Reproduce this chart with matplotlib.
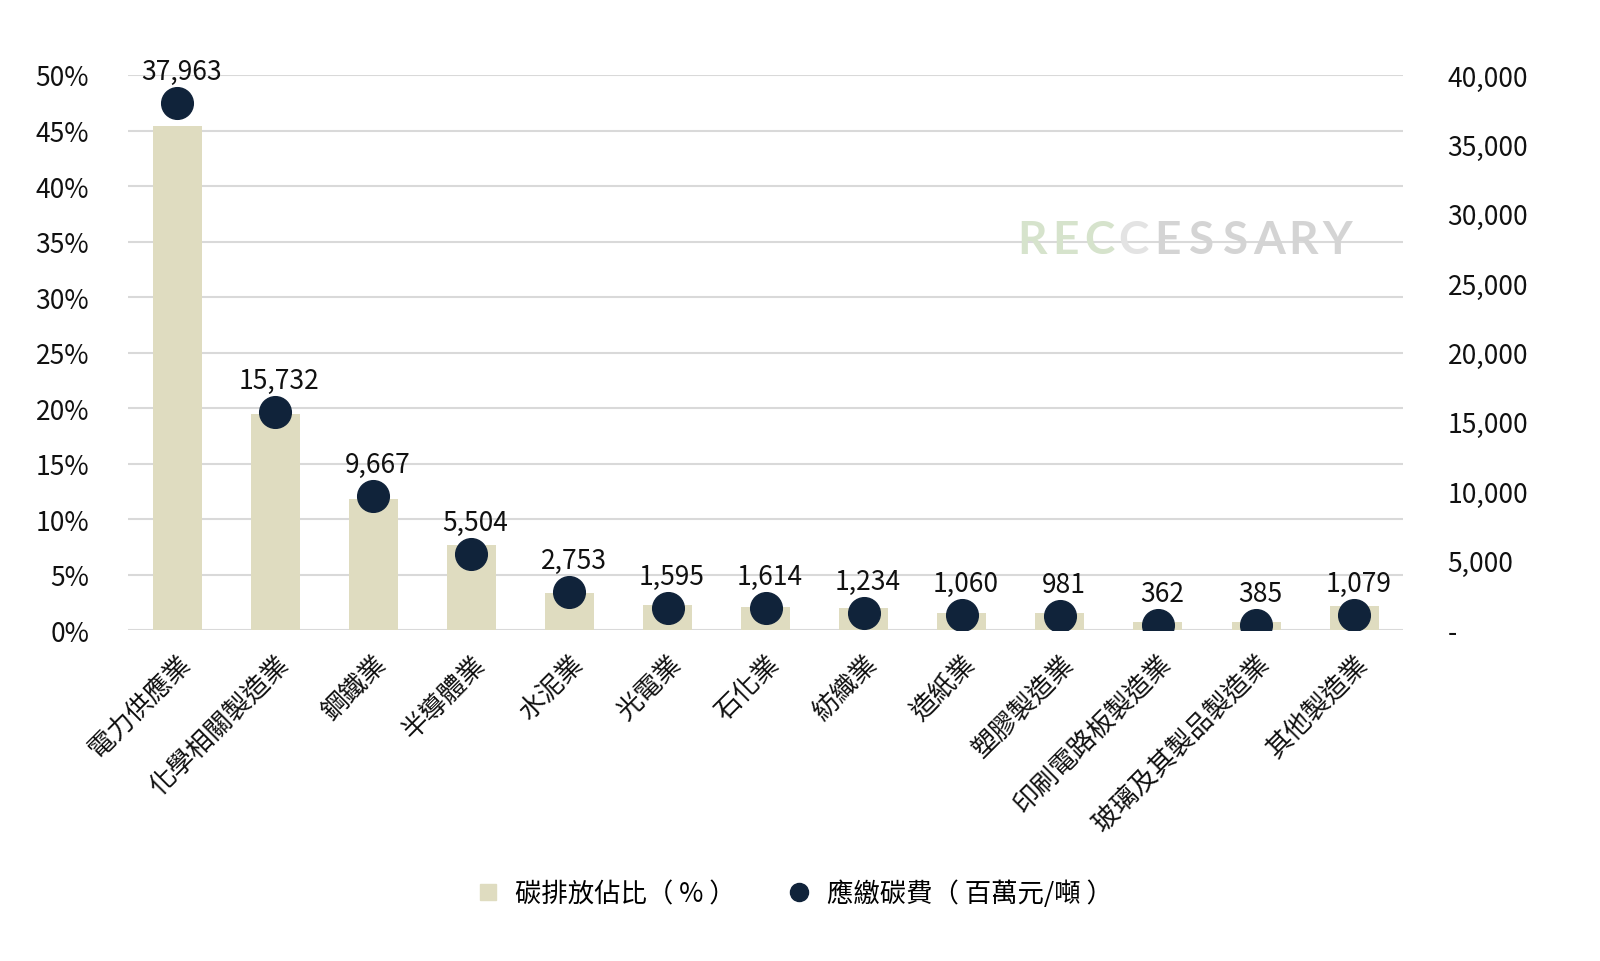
import matplotlib
matplotlib.use("Agg")
import matplotlib.pyplot as plt
from matplotlib.ticker import FuncFormatter, MultipleLocator
from matplotlib.lines import Line2D

plt.rcParams['font.family'] = ['Noto Sans CJK TC', 'DejaVu Sans']

# --- data ---
industries = ["電力供應業", "化學相關製造業", "鋼鐵業", "半導體業", "水泥業", "光電業", "石化業",
              "紡織業", "造紙業", "塑膠製造業", "印刷電路板製造業", "玻璃及其製品製造業", "其他製造業"]
emission_share = [45.4, 19.5, 11.8, 7.7, 3.3, 2.3, 2.1, 2.0, 1.5, 1.5, 0.7, 0.7, 2.2]   # %
carbon_fee = [37963, 15732, 9667, 5504, 2753, 1595, 1614, 1234, 1060, 981, 362, 385, 1079]  # 百萬元/噸

BAR_C = "#dfdcc0"
DOT_C = "#10233a"

fig = plt.figure(figsize=(16, 9.62), dpi=100)
ax = fig.add_axes([0.08, 0.344, 0.797, 0.577])
ax2 = ax.twinx()

x = list(range(len(industries)))
ax.bar(x, [v / 100 for v in emission_share], width=0.5, color=BAR_C, zorder=2)
ax.set_ylim(0, 0.5)
ax.set_xlim(-0.5, len(industries) - 0.5)
ax.yaxis.set_major_locator(MultipleLocator(0.05))
ax.yaxis.set_major_formatter(FuncFormatter(lambda v, p: f"{v*100:.0f}%"))
ax.grid(axis="y", color="#d9d9d9", linewidth=1.5, zorder=0)
ax.set_axisbelow(True)

ax2.scatter(x, carbon_fee, s=520, color=DOT_C, zorder=5)
ax2.set_ylim(0, 40000)
ax2.yaxis.set_major_locator(MultipleLocator(5000))
ax2.yaxis.set_major_formatter(FuncFormatter(lambda v, p: "-" if v == 0 else f"{v:,.0f}"))
for xi, v in zip(x, carbon_fee):
    ax2.annotate(f"{v:,}", (xi, v), xytext=(3, 13), textcoords="offset points",
                 ha="center", va="bottom", fontsize=19, color="#111111")

for a in (ax, ax2):
    for s in a.spines.values():
        s.set_visible(False)
    a.tick_params(length=0, labelsize=19, colors="#111111")
ax.tick_params(axis="y", pad=28)
ax2.tick_params(axis="y", pad=32)

ax.set_xticks(x)
ax.set_xticklabels(industries, rotation=45, ha="right", rotation_mode="anchor", fontsize=19)
ax.tick_params(axis="x", pad=14)

# watermark, letter-spaced
mark = "RECCESSARY"
mark_cols = ["#d6e3cc"] * 3 + ["#e3e3e3"] + ["#d4d4d4"] * 6
for i, (ch, c) in enumerate(zip(mark, mark_cols)):
    fig.text(0.645 + i * 0.0212, 0.749, ch, fontsize=33, fontweight="bold",
             family="Lato", color=c, ha="center", va="center", zorder=1)

handles = [Line2D([], [], marker="s", linestyle="none", markersize=12, color=BAR_C),
           Line2D([], [], marker="o", linestyle="none", markersize=13, color=DOT_C)]
fig.legend(handles, ["碳排放佔比（ % ）", "應繳碳費（ 百萬元/噸 ）"], loc="center",
           bbox_to_anchor=(0.492, 0.07), ncol=2, frameon=False, fontsize=19,
           handletextpad=0.05, columnspacing=1.4)

fig.savefig("out.png", dpi=100, facecolor="white")
